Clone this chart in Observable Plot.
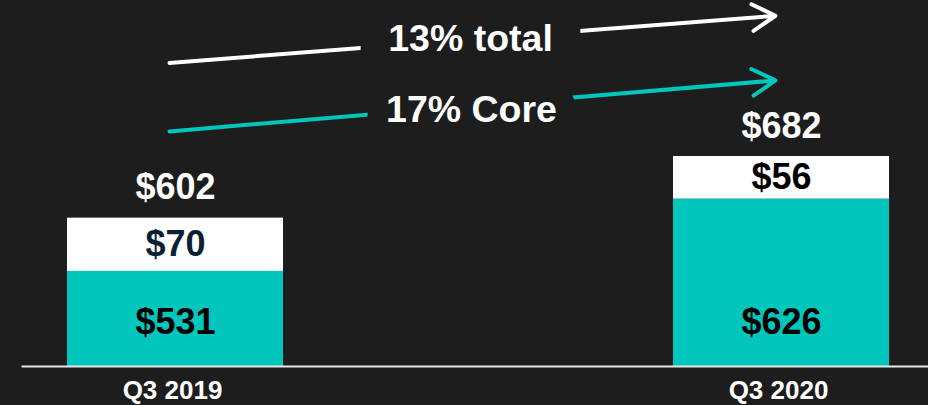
<!DOCTYPE html>
<html>
<head>
<meta charset="utf-8">
<script src="https://cdn.jsdelivr.net/npm/d3@7"></script>
<script src="https://cdn.jsdelivr.net/npm/@observablehq/plot@0.6"></script>
<style>
  html, body { margin: 0; padding: 0; background: #1d1d1d; }
  #chart svg { display: block; }
</style>
</head>
<body>
<div id="chart"></div>
<script>
// ---- data ----
const quarters = ["Q3 2019", "Q3 2020"];
const coreValues = [531, 626];
const otherValues = [70, 56];
const totals = [602, 682];
const growthLabels = ["13% total", "17% Core"];

// ---- annotation levels (in y-scale units) ----
const arrowTotal = [805, 867];
const arrowCore = [715, 782];
const growthLabelY = [836, 743];

const teal = "#00c6bc";
const bg = "#1d1d1d";
const font = "'Liberation Sans', Arial, sans-serif";

const rows = [];
quarters.forEach((q, i) => {
  rows.push({quarter: q, segment: "Core", value: coreValues[i]});
  rows.push({quarter: q, segment: "Other", value: otherValues[i]});
});
const otherLabels = quarters.map((q, i) => ({
  quarter: q, mid: coreValues[i] + otherValues[i] / 2, text: "$" + otherValues[i],
  color: i === 0 ? "#0c2034" : "#000000"
}));
const coreLabels = quarters.map((q, i) => ({quarter: q, text: "$" + coreValues[i]}));
const totalLabels = quarters.map((q, i) => ({quarter: q, total: totals[i], text: "$" + totals[i]}));
const arrows = [
  {label: growthLabels[0], y1: arrowTotal[0], y2: arrowTotal[1], color: "#ffffff"},
  {label: growthLabels[1], y1: arrowCore[0], y2: arrowCore[1], color: teal}
];

const chart = Plot.plot({
  width: 928,
  height: 405,
  marginTop: 0,
  marginBottom: 39,
  marginLeft: 22,
  marginRight: 0,
  style: {background: bg, fontFamily: font},
  x: {domain: quarters, range: [66, 889], paddingInner: 0.644, paddingOuter: 0, axis: null},
  y: {domain: [406, 682], range: [366, 156], axis: null},
  color: {domain: ["Core", "Other"], range: [teal, "#ffffff"]},
  marks: [
    Plot.barY(rows, {x: "quarter", y: "value", fill: "segment", clip: true}),
    Plot.frame({anchor: "bottom", stroke: "#e8e8e8", strokeWidth: 2}),
    Plot.axisX({tickSize: 0, tickPadding: 14, dx: -3, fontSize: 26, fontWeight: "bold", color: "#ffffff", label: null}),
    Plot.text(otherLabels, {x: "quarter", y: "mid", text: "text", fill: "color", fontSize: 36, fontWeight: "bold", lineAnchor: "middle"}),
    Plot.text(coreLabels, {x: "quarter", text: "text", frameAnchor: "bottom", dy: -44, fill: "#000000", fontSize: 36, fontWeight: "bold", lineAnchor: "middle"}),
    Plot.text(totalLabels, {x: "quarter", y: "total", text: "text", dy: -30, fill: "#ffffff", fontSize: 36, fontWeight: "bold", lineAnchor: "middle"}),
    Plot.arrow(arrows, {x1: () => quarters[0], x2: () => quarters[1], y1: "y1", y2: "y2", stroke: "color", strokeWidth: 4, headLength: 10, headAngle: 60, dx: -6}),
    Plot.text([arrows[0]], {y: () => growthLabelY[0], text: "label", dx: -5, fill: "#ffffff", stroke: bg, strokeWidth: 60, fontSize: 37.5, fontWeight: "bold", lineAnchor: "middle"}),
    Plot.text([arrows[1]], {y: () => growthLabelY[1], text: "label", dx: -4, fill: "#ffffff", stroke: bg, strokeWidth: 42, fontSize: 37.5, fontWeight: "bold", lineAnchor: "middle"})
  ]
});
document.getElementById("chart").appendChild(chart);
</script>
</body>
</html>
